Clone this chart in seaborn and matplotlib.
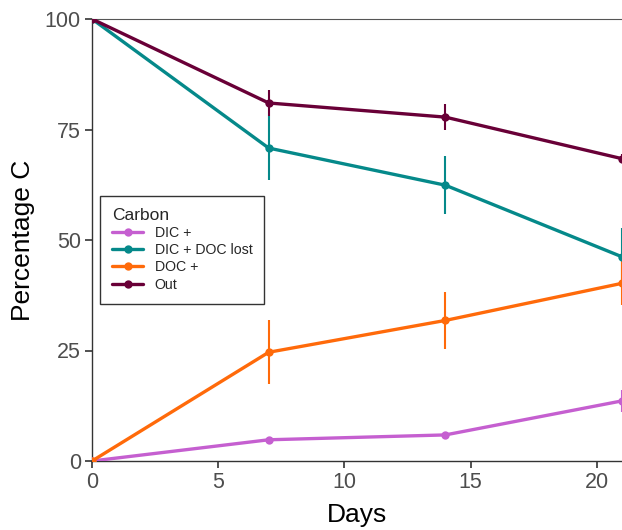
import matplotlib
matplotlib.use("Agg")
import matplotlib.pyplot as plt
import seaborn as sns
import pandas as pd
import numpy as np

days = [0, 7, 14, 21]
carbon_labels = ["DIC +", "DIC + DOC lost", "DOC +", "Out"]
dic_plus = [0, 4.8, 5.9, 13.6]
dic_plus_err = [0, 0.6, 0.6, 2.5]
dic_doc_lost = [100, 70.8, 62.4, 46.2]
dic_doc_lost_err = [0, 7.2, 6.5, 6.5]
doc_plus = [0, 24.6, 31.8, 40.2]
doc_plus_err = [0, 7.2, 6.5, 5.0]
out = [100, 81.0, 77.8, 68.4]
out_err = [0, 2.9, 3.0, 1.0]

colors = {"DIC +": "#C55FD0", "DIC + DOC lost": "#05898A",
          "DOC +": "#FF6A0A", "Out": "#690037"}

values = [dic_plus, dic_doc_lost, doc_plus, out]
errs = [dic_plus_err, dic_doc_lost_err, doc_plus_err, out_err]

df = pd.DataFrame({
    "Days": np.tile(days, 4),
    "Percentage C": np.concatenate(values),
    "err": np.concatenate(errs),
    "Carbon": np.repeat(carbon_labels, len(days)),
})

sns.set_theme(style="white")
plt.rcParams["font.family"] = ["Liberation Sans", "DejaVu Sans"]

fig = plt.figure(figsize=(6.22, 5.30), dpi=100)
ax = fig.add_axes([92/622, 1-461/530, 1-92/622, (461-19)/530])

for lab in carbon_labels:
    sub = df[df["Carbon"] == lab]
    ax.errorbar(sub["Days"], sub["Percentage C"], yerr=sub["err"], fmt="none",
                ecolor=colors[lab], elinewidth=1.5, capsize=0, clip_on=False, zorder=2)

sns.lineplot(data=df, x="Days", y="Percentage C", hue="Carbon", hue_order=carbon_labels,
             palette=colors, marker="o", markersize=6, markeredgewidth=0,
             linewidth=2.4, ax=ax, zorder=3, clip_on=True)

ax.set_xlim(0, 21)
ax.set_ylim(0, 100)
ax.set_xticks([0, 5, 10, 15, 20])
ax.set_yticks([0, 25, 50, 75, 100])
ax.tick_params(axis="both", which="major", direction="out", length=5, width=1.2,
               color="#333333", labelsize=15.5, labelcolor="#4D4D4D", pad=3,
               left=True, bottom=True)
for side in ["left", "bottom", "top"]:
    ax.spines[side].set_visible(True)
    ax.spines[side].set_color("#333333")
    ax.spines[side].set_linewidth(1.0)
ax.spines["top"].set_color("#555555")
ax.spines["top"].set_linewidth(0.8)
ax.spines["right"].set_visible(False)
ax.set_xlabel("Days", fontsize=19, color="black", labelpad=7)
ax.set_ylabel("Percentage C", fontsize=19, color="black", labelpad=7)

leg = ax.legend(title="Carbon", loc="upper left", bbox_to_anchor=(8/530, 1-(196-19)/442),
                borderaxespad=0, frameon=True, fontsize=10.2, title_fontsize=12.5,
                handlelength=2.2, borderpad=0.85, labelspacing=0.22, handletextpad=0.8,
                fancybox=False)
leg.get_frame().set_edgecolor("black")
leg.get_frame().set_linewidth(1.0)
leg._legend_box.align = "left"

fig.savefig("out.png", dpi=100)
